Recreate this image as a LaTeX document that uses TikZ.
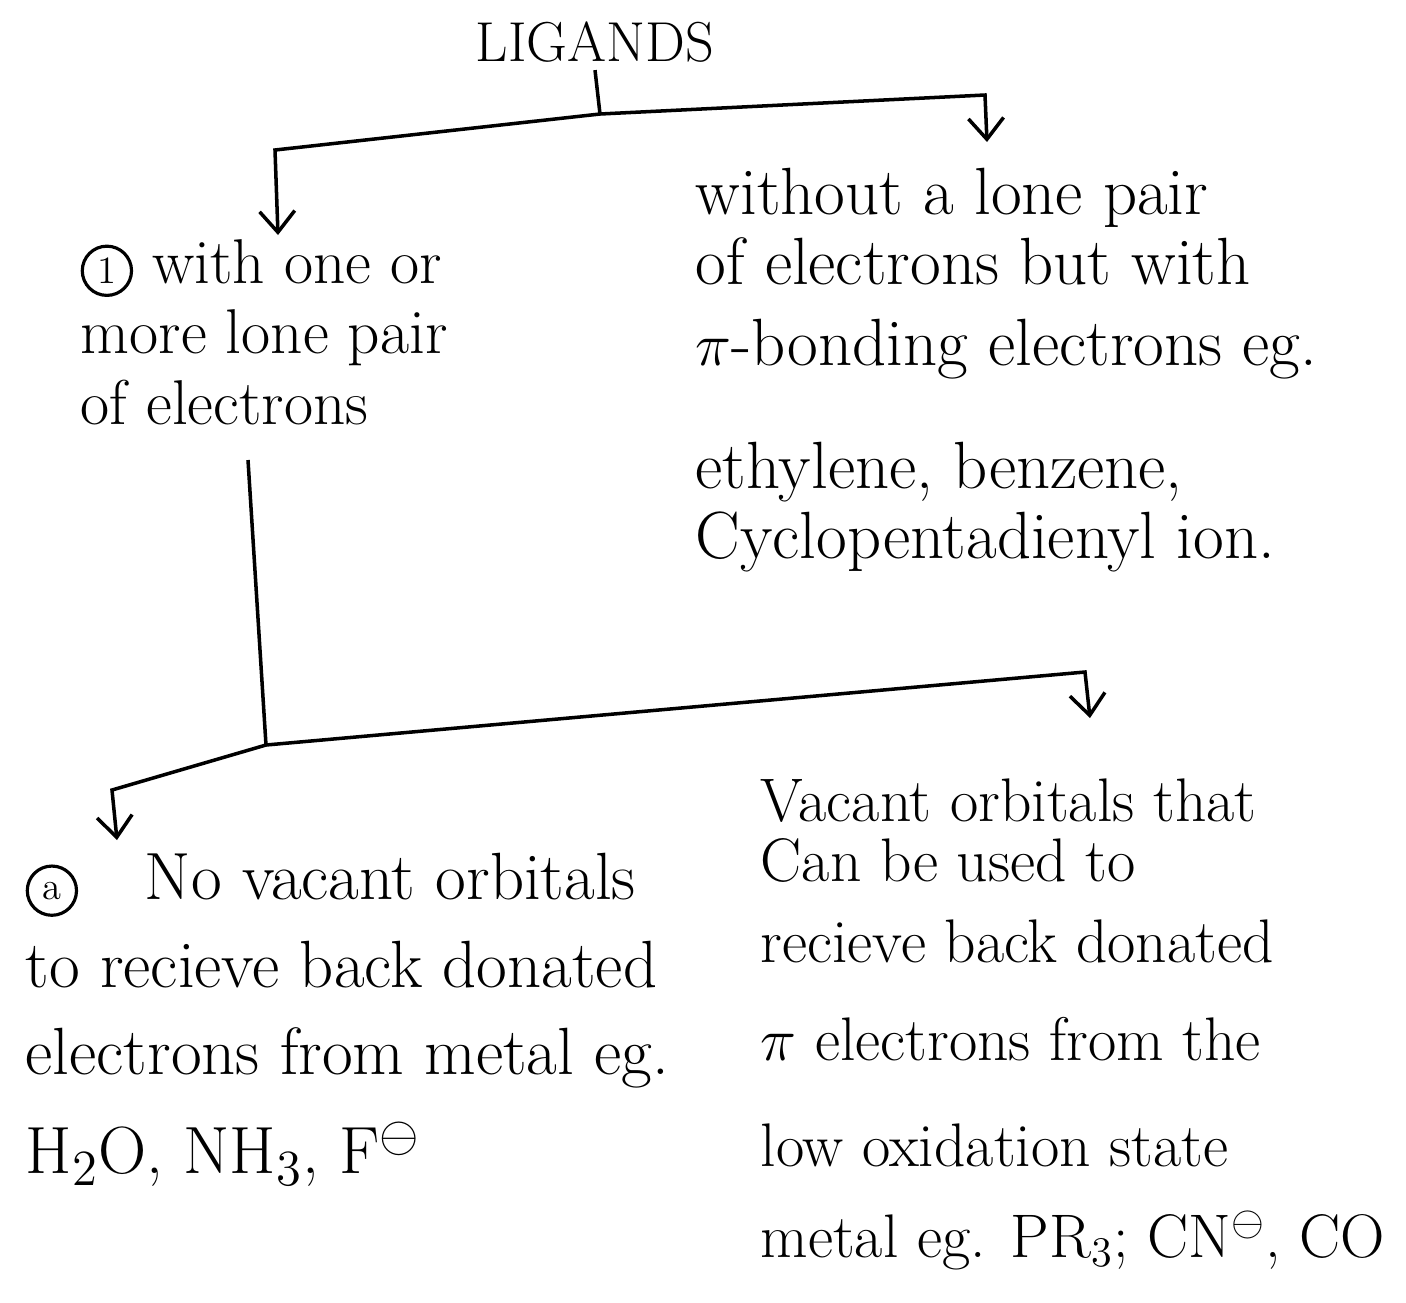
\documentclass[tikz,border=0pt]{standalone}
\usepackage{amsmath}
\usepackage{amssymb}
\usepackage{tikz}
\usetikzlibrary{positioning}
\usetikzlibrary{arrows.meta}

\newcommand{\ringed}[1]{\tikz[baseline=(rg.base)]\node[draw,circle,line width=0.9pt,inner sep=0pt,minimum size=14pt,font=\fontsize{11}{11}\selectfont](rg){#1};}

\begin{document}
\begin{tikzpicture}[x=0.01cm,y=-0.01cm,
    hand/.style={align=left,inner sep=0pt,anchor=north west,font=\fontsize{18}{20}\selectfont},
    wire/.style={line width=1pt},
    down/.style={wire,-{Straight Barb[length=6pt,width=10pt]}}]
    \useasboundingbox (0,0) rectangle (1406,1302);
    % Top (Ligands)
    \node[font=\fontsize{16}{16}\selectfont,inner sep=2pt] (lig) at (595,42) {LIGANDS};
    \coordinate (j1) at (600,114);
    \coordinate (cl) at (275,150);
    \coordinate (cr) at (985,95);
    \coordinate (tl) at (278,235);
    \coordinate (tr) at (987,142);
    \draw[wire] (lig.south) -- (j1);
    \draw[down] (j1) -- (cl) -- (tl);
    \draw[down] (j1) -- (cr) -- (tr);
    % First level
    \node[hand] (lonepair) at (80,239) {\ringed{1} with one or\\ more lone pair\\ of electrons};
    \node[hand,font=\fontsize{19}{20}\selectfont] (nopair) at (695,167) {without a lone pair\\ of electrons but with\\[3pt]
        $\pi$-bonding electrons eg.\\[15pt] ethylene, benzene,\\ Cyclopentadienyl ion.};
    % Second level
    \coordinate (m0) at (248,460);
    \coordinate (j2) at (266,745);
    \coordinate (cl2) at (112,790);
    \coordinate (cr2) at (1085,672);
    \coordinate (tl2) at (117,840);
    \coordinate (tr2) at (1090,718);
    \draw[wire] (m0) -- (j2);
    \draw[down] (j2) -- (cl2) -- (tl2);
    \draw[down] (j2) -- (cr2) -- (tr2);
    \node[hand,font=\fontsize{19}{25}\selectfont] (novacant) at (25,852) {\ringed{a}\quad No vacant orbitals\\
        to recieve back donated\\ electrons from metal eg.\\[3pt] H$_2$O, NH$_3$, F$^{\ominus}$};
    \node[hand,font=\fontsize{17.5}{17}\selectfont] (vacant) at (760,778) {Vacant orbitals that\\
        Can be used to\\[6pt] recieve back donated\\[11pt] $\pi$ electrons from the\\[13pt]
        low oxidation state\\[9pt] metal eg. PR$_3$; CN$^{\ominus}$, CO};
\end{tikzpicture}
\end{document}
